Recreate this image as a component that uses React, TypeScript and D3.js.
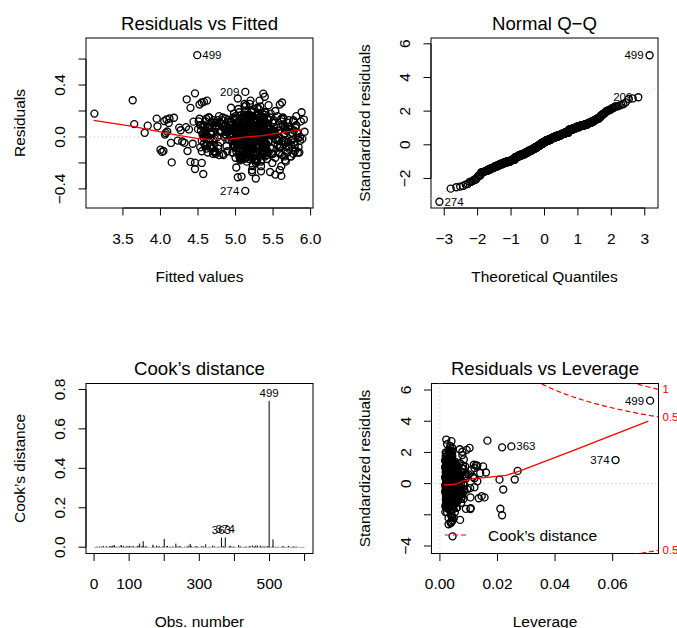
import React from "react";
import * as d3 from "d3";

// ---- model output, indexed by observation number (1..600) ----
const fitted = [
  4.88, 4.62, 5.21, 5.34, 5.47, 4.95, 5.23, 5.12, 5.71, 5.18,
  4.93, 5.82, 5.27, 5.05, 5.58, 5.02, 5.11, 5.41, 4.64, 5.29,
  3.83, 4.55, 5.33, 5.19, 5.39, 4.86, 5.34, 4.99, 5.66, 5.08,
  5.04, 5.77, 5.16, 5.48, 5.62, 5.11, 5.05, 5.26, 4.72, 5.36,
  4.76, 4.66, 5.38, 5.09, 3.65, 4.91, 5.29, 5.52, 5.79, 5.22,
  3.95, 5.88, 5.12, 5.31, 5.44, 5.07, 4.58, 5.03, 4.61, 5.14,
  4.97, 4.53, 5.24, 5.43, 5.35, 4.83, 5.18, 5.18, 5.61, 5.33,
  4.81, 5.74, 5.29, 5.01, 5.52, 5.15, 4.55, 5.37, 4.77, 5.05,
  5.07, 4.68, 5.35, 5.22, 5.66, 4.98, 5.07, 3.79, 5.72, 5.26,
  3.96, 5.91, 5.13, 5.46, 4.05, 5.08, 5.37, 5.11, 4.69, 5.39,
  4.08, 4.59, 5.19, 5.28, 5.49, 4.11, 5.13, 4.97, 5.64, 5.02,
  4.12, 5.79, 5.37, 5.14, 5.33, 4.06, 5.24, 5.44, 4.74, 5.17,
  4.09, 4.51, 5.25, 5.39, 5.61, 4.00, 5.02, 5.06, 5.59, 4.15,
  4.14, 5.86, 5.31, 5.02, 5.41, 4.02, 5.31, 5.23, 4.66, 4.46,
  4.04, 4.63, 5.14, 5.47, 5.56, 4.25, 5.09, 5.32, 5.78, 4.07,
  4.91, 5.72, 5.36, 5.17, 5.37, 4.27, 5.27, 4.99, 4.58, 5.24,
  5.06, 4.57, 5.22, 5.29, 5.64, 4.89, 5.15, 4.57, 5.69, 5.11,
  4.79, 5.84, 5.28, 5.53, 5.46, 5.13, 5.03, 5.08, 4.79, 5.35,
  4.99, 4.65, 5.11, 5.04, 5.32, 4.94, 5.36, 5.42, 5.62, 5.19,
  4.87, 5.76, 5.39, 5.33, 5.53, 5.17, 5.08, 5.16, 4.63, 4.46,
  4.23, 4.54, 5.18, 5.46, 5.68, 5.04, 5.17, 5.27, 5.13, 5.31,
  4.73, 5.89, 5.26, 4.98, 5.42, 4.86, 5.22, 5.50, 4.71, 5.06,
  5.01, 4.61, 5.34, 5.24, 5.59, 5.09, 5.05, 5.13, 5.67, 5.27,
  4.84, 5.71, 4.62, 5.37, 5.36, 4.92, 5.33, 5.02, 4.76, 5.38,
  5.09, 4.52, 5.15, 5.19, 5.51, 5.14, 5.12, 5.35, 5.81, 5.09,
  4.94, 5.78, 5.30, 5.44, 5.63, 4.81, 5.01, 5.21, 4.67, 5.23,
  4.71, 4.69, 5.20, 5.07, 5.48, 5.01, 5.26, 5.46, 5.57, 5.34,
  5.03, 5.83, 5.36, 5.13, 5.39, 5.19, 5.59, 5.30, 4.73, 5.16,
  4.89, 4.56, 5.12, 5.51, 5.57, 4.96, 5.04, 5.04, 5.63, 5.29,
  4.78, 5.73, 5.23, 5.27, 5.34, 5.12, 5.38, 5.18, 4.59, 5.01,
  4.29, 4.64, 5.29, 5.36, 5.66, 4.88, 5.11, 5.39, 5.74, 5.12,
  5.08, 5.87, 5.17, 5.11, 5.45, 5.06, 5.21, 4.55, 4.65, 5.37,
  4.92, 4.58, 5.38, 5.42, 5.31, 4.84, 5.07, 5.25, 5.59, 5.21,
  4.74, 5.75, 5.13, 5.00, 5.54, 5.16, 5.29, 5.53, 4.75, 5.32,
  5.05, 4.67, 5.27, 5.31, 5.38, 4.97, 5.02, 5.10, 5.65, 5.05,
  4.86, 5.80, 5.34, 5.23, 5.60, 5.08, 5.16, 5.33, 4.62, 5.26,
  4.98, 4.55, 4.35, 5.49, 5.47, 4.93, 5.34, 5.01, 5.71, 5.14,
  4.82, 5.69, 5.24, 3.12, 5.35, 5.18, 5.09, 5.43, 4.70, 5.36,
  5.10, 4.62, 5.16, 5.15, 5.67, 4.90, 5.23, 5.20, 5.60, 5.18,
  4.75, 5.85, 5.32, 5.40, 5.43, 5.03, 5.00, 5.07, 4.78, 5.28,
  4.96, 4.50, 5.21, 5.26, 5.56, 4.85, 5.14, 5.48, 5.76, 5.10,
  4.90, 4.52, 5.37, 5.06, 5.33, 5.13, 5.32, 5.29, 4.64, 5.33,
  5.02, 5.92, 5.14, 5.45, 5.50, 4.95, 5.06, 5.15, 5.58, 5.20,
  4.72, 4.60, 5.28, 5.32, 5.40, 5.10, 5.25, 5.38, 4.68, 5.07,
  4.85, 5.77, 5.19, 5.12, 5.62, 4.87, 5.10, 5.24, 5.70, 5.30,
  4.40, 4.66, 5.35, 5.38, 5.44, 4.36, 5.18, 5.00, 4.74, 5.25,
  4.40, 5.70, 5.22, 5.20, 5.36, 4.46, 5.04, 5.47, 5.64, 5.15,
  4.32, 4.53, 5.30, 5.03, 5.52, 4.34, 5.28, 5.34, 4.60, 5.38,
  4.38, 5.81, 5.18, 5.50, 5.65, 4.43, 5.13, 5.12, 5.73, 5.22,
  4.44, 4.68, 5.26, 5.28, 5.37, 4.18, 5.20, 5.41, 4.49, 5.08,
  4.80, 5.74, 5.33, 5.09, 5.58, 5.05, 5.07, 5.22, 4.72, 3.63,
  4.95, 4.57, 5.10, 5.35, 5.46, 4.99, 5.35, 5.31, 5.66, 5.34,
  4.77, 5.86, 5.29, 5.18, 5.32, 5.11, 5.12, 4.96, 4.66, 5.13,
  5.00, 4.64, 5.23, 5.41, 5.61, 4.82, 5.03, 5.44, 5.61, 5.27,
  4.83, 5.79, 5.38, 5.25, 5.49, 5.15, 5.24, 5.05, 4.61, 5.19,
  4.91, 4.54, 5.17, 5.34, 5.35, 4.88, 5.17, 5.36, 5.77, 5.31,
  5.04, 5.71, 5.31, 5.08, 5.55, 5.07, 5.30, 5.27, 4.77, 5.04,
  4.70, 4.61, 5.20, 5.47, 5.42, 4.94, 5.10, 5.14, 5.56, 5.35,
  4.88, 5.83, 5.12, 5.21, 5.68, 5.12, 5.05, 5.40, 4.69, 5.11,
  4.97, 4.59, 5.36, 5.30, 5.39, 5.00, 5.22, 5.09, 5.68, 5.24,
];

const resid = [
  0.01, -0.06, 0.13, -0.18, 0.04, -0.03, 0.08, 0.235, -0.09, -0.14,
  0.07, 0.03, -0.02, 0.19, -0.12, 0.00, -0.08, -0.05, 0.15, 0.09,
  0.087, -0.11, 0.16, -0.01, -0.04, 0.06, -0.225, 0.13, 0.03, -0.07,
  -0.03, 0.12, -0.09, 0.02, 0.265, -0.06, 0.05, -0.17, -0.01, 0.14,
  0.13, -0.04, -0.02, -0.14, 0.099, 0.07, 0.18, 0.01, -0.09, -0.05,
  0.141, 0.19, 0.01, -0.07, -0.12, 0.04, 0.27, 0.296, 0.02, -0.16,
  -0.06, 0.09, 0.215, 0.03, 0.00, -0.13, -0.02, -0.17, 0.12, 0.05,
  0.05, -0.15, -0.08, 0.11, 0.02, -0.04, -0.20, 0.334, -0.07, 0.01,
  -0.16, 0.02, 0.04, -0.255, 0.08, 0.14, -0.01, 0.032, 0.06, -0.11,
  0.082, 0.134, -0.05, 0.07, 0.122, -0.02, 0.12, -0.14, -0.09, 0.19,
  0.135, 0.04, 0.08, -0.03, -0.20, 0.108, 0.00, 0.15, -0.03, -0.08,
  0.142, -0.06, -0.13, 0.245, 0.01, 0.018, -0.09, -0.04, 0.11, 0.06,
  0.042, 0.12, 0.03, -0.15, -0.30, -0.098, 0.07, 0.02, -0.13, -0.196,
  -0.046, 0.00, 0.09, 0.05, -0.06, -0.115, 0.17, -0.225, 0.03, -0.247,
  -0.108, -0.12, -0.02, 0.08, 0.16, 0.072, -0.14, 0.28, 0.05, 0.031,
  0.06, 0.08, 0.18, -0.11, -0.04, 0.052, 0.01, -0.07, -0.01, 0.13,
  -0.09, 0.03, -0.06, 0.04, 0.14, 0.07, -0.19, -0.285, -0.12, 0.00,
  0.11, -0.08, 0.05, -0.16, 0.02, -0.03, 0.08, -0.305, 0.04, -0.13,
  -0.01, 0.15, -0.17, 0.12, -0.07, 0.225, 0.03, 0.06, -0.14, 0.09,
  0.04, -0.02, 0.11, 0.01, 0.20, -0.13, -0.07, 0.17, 0.08, 0.336,
  -0.028, 0.09, -0.04, -0.08, 0.05, 0.02, 0.14, -0.32, 0.347, -0.03,
  -0.12, -0.015, 0.07, 0.18, -0.17, 0.06, -0.01, 0.11, 0.13, 0.04,
  0.01, -0.09, -0.19, -0.05, 0.25, -0.02, 0.06, 0.09, -0.04, -0.12,
  0.08, 0.06, 0.28, -0.14, -0.07, 0.12, 0.235, -0.02, 0.00, 0.15,
  -0.05, 0.14, 0.03, 0.255, 0.02, -0.16, -0.11, -0.13, 0.09, 0.01,
  0.12, -0.04, -0.08, -0.03, 0.09, 0.04, 0.00, 0.20, -0.07, -0.06,
  -0.07, 0.07, 0.16, 0.08, -0.13, -0.11, 0.11, -0.27, 0.05, 0.13,
  0.03, -0.12, -0.02, -0.415, 0.17, 0.08, -0.255, 0.04, -0.11, -0.01,
  -0.11, 0.02, 0.09, 0.13, -0.03, 0.00, 0.215, -0.06, 0.15, 0.07,
  0.16, -0.15, -0.05, -0.20, 0.07, 0.14, -0.04, 0.11, 0.01, -0.09,
  -0.035, 0.08, 0.05, 0.02, -0.18, -0.07, 0.13, 0.31, -0.03, 0.03,
  -0.01, 0.12, -0.14, 0.17, 0.06, 0.09, -0.12, 0.265, 0.07, -0.04,
  0.09, -0.05, 0.02, -0.11, 0.15, -0.14, 0.01, 0.07, -0.08, 0.19,
  -0.13, 0.03, 0.13, 0.06, -0.02, 0.04, -0.18, -0.29, 0.11, 0.00,
  0.06, -0.09, -0.11, 0.215, 0.12, -0.03, 0.08, -0.01, 0.02, -0.15,
  0.02, 0.07, 0.06, -0.16, -0.08, 0.17, -0.05, 0.14, -0.06, 0.09,
  -0.07, -0.03, 0.29, 0.04, 0.18, 0.01, 0.12, -0.235, 0.13, -0.08,
  0.13, 0.11, -0.12, 0.18, -0.05, -0.09, 0.05, 0.09, -0.02, 0.03,
  -0.04, 0.01, 0.08, -0.07, -0.19, 0.13, -0.09, 0.28, 0.08, -0.13,
  0.08, -0.12, -0.01, 0.11, 0.14, -0.06, 0.16, -0.15, -0.14, 0.05,
  -0.12, 0.06, 0.14, 0.01, -0.06, 0.08, -0.02, -0.09, 0.03, 0.11,
  0.05, 0.25, -0.07, -0.18, 0.09, -0.11, 0.09, 0.225, 0.07, -0.03,
  -0.08, 0.04, 0.06, 0.07, -0.13, 0.05, -0.15, -0.05, -0.08, 0.16,
  0.11, -0.07, -0.14, -0.04, 0.19, -0.01, 0.04, 0.13, 0.04, -0.17,
  0.00, 0.13, 0.11, 0.255, -0.03, 0.14, -0.07, 0.02, -0.04, 0.07,
  0.224, -0.01, 0.01, -0.11, 0.13, -0.108, 0.16, -0.16, 0.09, 0.04,
  -0.192, 0.08, -0.05, 0.15, -0.11, -0.198, 0.03, 0.06, -0.06, -0.06,
  -0.045, -0.08, 0.18, -0.31, 0.04, 0.076, -0.12, -0.09, 0.12, 0.09,
  0.058, 0.16, -0.07, 0.05, -0.15, -0.052, 0.20, 0.16, 0.02, -0.08,
  0.118, 0.03, 0.12, -0.19, 0.06, 0.148, -0.09, 0.03, 0.63, 0.14,
  -0.04, -0.06, -0.11, 0.09, -0.01, 0.11, 0.06, -0.27, -0.12, 0.283,
  0.07, 0.09, 0.04, -0.05, 0.15, -0.08, -0.13, 0.05, 0.06, -0.12,
  -0.09, -0.03, -0.17, 0.17, 0.01, 0.03, 0.11, -0.12, -0.07, 0.05,
  0.03, 0.07, 0.07, -0.09, -0.225, 0.08, 0.00, 0.245, 0.14, -0.03,
  0.15, -0.11, -0.03, 0.06, 0.11, -0.12, 0.13, -0.02, 0.05, 0.12,
  -0.02, 0.05, 0.14, -0.265, -0.05, 0.06, -0.04, 0.11, -0.13, -0.07,
  0.06, -0.08, -0.01, 0.14, 0.07, -0.17, 0.08, -0.18, 0.09, 0.01,
  -0.13, 0.14, 0.09, 0.03, -0.14, 0.12, -0.16, 0.06, -0.02, 0.16,
  0.04, -0.01, -0.06, -0.15, 0.05, 0.02, 0.03, -0.08, 0.11, -0.05,
  -0.06, 0.08, 0.07, 0.08, 0.12, -0.04, -0.11, 0.15, -0.07, 0.04,
];

const hat = [
  0.0024, 0.0058, 0.0031, 0.0019, 0.0042, 0.0027, 0.0036, 0.0022, 0.0049, 0.0033,
  0.0029, 0.0071, 0.0021, 0.0038, 0.0045, 0.0025, 0.0032, 0.0053, 0.0047, 0.0020,
  0.016, 0.0066, 0.0035, 0.0023, 0.0028, 0.0041, 0.0052, 0.0018, 0.0039, 0.0030,
  0.0034, 0.0062, 0.0026, 0.0044, 0.0033, 0.0021, 0.0040, 0.0029, 0.0058, 0.0024,
  0.0019, 0.0054, 0.0037, 0.0027, 0.027, 0.0046, 0.0030, 0.0023, 0.0061, 0.0035,
  0.013, 0.0083, 0.0024, 0.0031, 0.0039, 0.0028, 0.0069, 0.0036, 0.0052, 0.0022,
  0.0041, 0.0075, 0.0020, 0.0033, 0.0026, 0.0050, 0.0043, 0.0031, 0.0037, 0.0018,
  0.0026, 0.0059, 0.0045, 0.0021, 0.0034, 0.0038, 0.0106, 0.0040, 0.0044, 0.0029,
  0.0032, 0.0051, 0.0028, 0.0042, 0.0055, 0.0024, 0.0019, 0.026, 0.0063, 0.0036,
  0.014, 0.0088, 0.0033, 0.0025, 0.012, 0.0030, 0.0048, 0.0027, 0.0049, 0.0041,
  0.015, 0.0064, 0.0022, 0.0036, 0.0029, 0.011, 0.0035, 0.0044, 0.0038, 0.0023,
  0.0125, 0.0070, 0.0039, 0.0020, 0.0047, 0.013, 0.0041, 0.0025, 0.0056, 0.0031,
  0.012, 0.0078, 0.0027, 0.0034, 0.0040, 0.0145, 0.0022, 0.0032, 0.0045, 0.021,
  0.022, 0.0081, 0.0030, 0.0046, 0.0025, 0.0135, 0.0054, 0.0019, 0.0050, 0.0216,
  0.0155, 0.0060, 0.0043, 0.0028, 0.0037, 0.010, 0.0026, 0.0035, 0.0066, 0.0207,
  0.0038, 0.0067, 0.0018, 0.0031, 0.0052, 0.0115, 0.0029, 0.0043, 0.0053, 0.0026,
  0.0023, 0.0072, 0.0036, 0.0049, 0.0030, 0.0034, 0.0057, 0.0070, 0.0042, 0.0039,
  0.0045, 0.0079, 0.0025, 0.0022, 0.0041, 0.0027, 0.0033, 0.0037, 0.0048, 0.0021,
  0.0030, 0.0056, 0.0048, 0.0035, 0.0019, 0.0042, 0.0062, 0.0028, 0.0040, 0.0032,
  0.0021, 0.0068, 0.0032, 0.0040, 0.0036, 0.0024, 0.0027, 0.0046, 0.0054, 0.0165,
  0.012, 0.0076, 0.0029, 0.0026, 0.0058, 0.0037, 0.0039, 0.0030, 0.0022, 0.0044,
  0.0036, 0.0085, 0.0041, 0.0033, 0.0024, 0.0055, 0.0020, 0.0039, 0.0046, 0.0027,
  0.0027, 0.0063, 0.0023, 0.0045, 0.0031, 0.0030, 0.0047, 0.0024, 0.0059, 0.0035,
  0.0048, 0.0065, 0.0103, 0.0029, 0.0043, 0.0020, 0.0034, 0.0052, 0.0043, 0.0028,
  0.0020, 0.0080, 0.0038, 0.0037, 0.0027, 0.0045, 0.0031, 0.0022, 0.0064, 0.0040,
  0.0033, 0.0061, 0.0027, 0.0024, 0.0050, 0.0039, 0.0044, 0.0035, 0.0051, 0.0019,
  0.0042, 0.0057, 0.0034, 0.0041, 0.0022, 0.0026, 0.0028, 0.0048, 0.0036, 0.0031,
  0.0025, 0.0073, 0.0019, 0.0044, 0.0038, 0.0033, 0.0040, 0.0027, 0.0045, 0.0037,
  0.0039, 0.0069, 0.0044, 0.0030, 0.0035, 0.0048, 0.0025, 0.0041, 0.0057, 0.0023,
  0.0028, 0.0074, 0.0031, 0.0047, 0.0029, 0.0022, 0.0060, 0.0034, 0.0052, 0.0043,
  0.0105, 0.0055, 0.0026, 0.0032, 0.0046, 0.0031, 0.0037, 0.0025, 0.0068, 0.0034,
  0.0031, 0.0077, 0.0040, 0.0023, 0.0033, 0.0044, 0.0021, 0.0093, 0.0046, 0.0029,
  0.0044, 0.0062, 0.0022, 0.0039, 0.0027, 0.0036, 0.0049, 0.0032, 0.0041, 0.0020,
  0.0022, 0.0058, 0.0037, 0.0028, 0.0051, 0.0025, 0.0035, 0.0044, 0.0055, 0.0038,
  0.0035, 0.0052, 0.0030, 0.0043, 0.0024, 0.0040, 0.0028, 0.0021, 0.0048, 0.0032,
  0.0027, 0.0066, 0.0046, 0.0034, 0.0039, 0.0032, 0.0042, 0.0029, 0.0047, 0.0025,
  0.0040, 0.0071, 0.0248, 0.0020, 0.0032, 0.0047, 0.0055, 0.0038, 0.0060, 0.0030,
  0.0024, 0.0059, 0.0033, 0.061, 0.0045, 0.0021, 0.0030, 0.0036, 0.0050, 0.0041,
  0.0037, 0.0064, 0.0028, 0.0031, 0.0059, 0.0035, 0.0024, 0.0043, 0.0039, 0.0026,
  0.0032, 0.0082, 0.0042, 0.0025, 0.0030, 0.0029, 0.0038, 0.0026, 0.0053, 0.0036,
  0.0021, 0.0087, 0.0024, 0.0040, 0.0037, 0.0043, 0.0032, 0.0034, 0.0070, 0.0022,
  0.0043, 0.0078, 0.0036, 0.0029, 0.0026, 0.0030, 0.0051, 0.0040, 0.0048, 0.0033,
  0.0029, 0.0090, 0.0021, 0.0035, 0.0043, 0.0038, 0.0027, 0.0031, 0.0044, 0.0045,
  0.0046, 0.0068, 0.0039, 0.0022, 0.0034, 0.0026, 0.0053, 0.0024, 0.0057, 0.0028,
  0.0026, 0.0061, 0.0032, 0.0044, 0.0028, 0.0047, 0.0022, 0.0037, 0.0062, 0.0039,
  0.0078, 0.0057, 0.0025, 0.0033, 0.0041, 0.0106, 0.0036, 0.0029, 0.0049, 0.0024,
  0.0107, 0.0066, 0.0043, 0.0027, 0.0035, 0.0090, 0.0030, 0.0045, 0.0053, 0.0031,
  0.0095, 0.0075, 0.0029, 0.0038, 0.0022, 0.0088, 0.0044, 0.0033, 0.0056, 0.0040,
  0.0092, 0.0070, 0.0035, 0.0021, 0.0048, 0.0085, 0.0026, 0.0039, 0.0067, 0.0027,
  0.0082, 0.0058, 0.0040, 0.0036, 0.0031, 0.0118, 0.0047, 0.0023, 0.073, 0.0042,
  0.0034, 0.0079, 0.0027, 0.0048, 0.0039, 0.0034, 0.0025, 0.0030, 0.0054, 0.0216,
  0.0023, 0.0063, 0.0045, 0.0026, 0.0033, 0.0041, 0.0056, 0.0038, 0.0042, 0.0029,
  0.0041, 0.0072, 0.0020, 0.0039, 0.0044, 0.0028, 0.0031, 0.0027, 0.0050, 0.0035,
  0.0030, 0.0060, 0.0038, 0.0032, 0.0025, 0.0050, 0.0039, 0.0041, 0.0046, 0.0022,
  0.0036, 0.0076, 0.0034, 0.0024, 0.0040, 0.0023, 0.0045, 0.0032, 0.0058, 0.0038,
  0.0025, 0.0067, 0.0029, 0.0042, 0.0050, 0.0037, 0.0028, 0.0035, 0.0063, 0.0026,
  0.0033, 0.0064, 0.0041, 0.0030, 0.0027, 0.0032, 0.0052, 0.0043, 0.0047, 0.0034,
  0.0047, 0.0059, 0.0024, 0.0036, 0.0038, 0.0045, 0.0033, 0.0022, 0.0041, 0.0030,
  0.0022, 0.0073, 0.0043, 0.0029, 0.0053, 0.0027, 0.0041, 0.0037, 0.0055, 0.0044,
  0.0038, 0.0062, 0.0032, 0.0045, 0.0026, 0.0039, 0.0035, 0.0028, 0.0049, 0.0023,
];

// red smoother curves
const smoothFitX = [3.11, 3.63, 4.03, 4.26, 4.48, 4.70, 4.92, 5.15, 5.37, 5.59, 5.81, 5.91];
const smoothFitY = [0.128, 0.082, 0.036, 0.010, -0.011, -0.021, -0.016, 0.0, 0.010, 0.031, 0.051, 0.062];
const smoothLevX = [0.0013, 0.0052, 0.008, 0.0115, 0.0172, 0.023, 0.0276, 0.046, 0.0724];
const smoothLevY = [-0.09, -0.04, 0.16, 0.32, 0.42, 0.53, 0.80, 2.10, 4.00];

const cookLevels = [0.5, 1];
const modelRank = 3;

// ticks and tick labels
const fitTicks = [3.5, 4.0, 4.5, 5.0, 5.5, 6.0];
const fitTickText = ["3.5", "4.0", "4.5", "5.0", "5.5", "6.0"];
const resTicks = [-0.4, -0.2, 0, 0.2, 0.4, 0.6];
const resTickText = ["\u22120.4", "", "0.0", "", "0.4", ""];
const qxTicks = [-3, -2, -1, 0, 1, 2, 3];
const qxTickText = ["\u22123", "\u22122", "\u22121", "0", "1", "2", "3"];
const qyTicks = [-2, 0, 2, 4, 6];
const qyTickText = ["\u22122", "0", "2", "4", "6"];
const obsTicks = [0, 100, 200, 300, 400, 500, 600];
const obsTickText = ["0", "100", "", "300", "", "500", ""];
const cookTicks = [0, 0.2, 0.4, 0.6, 0.8];
const cookTickText = ["0.0", "0.2", "0.4", "0.6", "0.8"];
const levTicks = [0, 0.02, 0.04, 0.06];
const levTickText = ["0.00", "0.02", "0.04", "0.06"];
const slTicks = [-4, -2, 0, 2, 4, 6];
const slTickText = ["\u22124", "", "0", "2", "4", "6"];

const FONT = '"Liberation Sans", Arial, Helvetica, sans-serif';
const FS = 15.5;
const FS_TITLE = 18.6;
const FS_ID = 11.5;

function ext(lo: number, hi: number, f = 0.04): [number, number] {
  const d = (hi - lo) * f;
  return [lo - d, hi + d];
}

// inverse standard normal CDF (Acklam)
function qnorm(p: number): number {
  const a = [-3.969683028665376e1, 2.209460984245205e2, -2.759285104469687e2, 1.38357751867269e2, -3.066479806614716e1, 2.506628277459239];
  const b = [-5.447609879822406e1, 1.615858368580409e2, -1.556989798598866e2, 6.680131188771972e1, -1.328068155288572e1];
  const c = [-7.784894002430293e-3, -3.223964580411365e-1, -2.400758277161838, -2.549732539343734, 4.374664141464968, 2.938163982698783];
  const d = [7.784695709041462e-3, 3.224671290700398e-1, 2.445134137142996, 3.754408661907416];
  const pl = 0.02425;
  if (p < pl) {
    const q = Math.sqrt(-2 * Math.log(p));
    return (((((c[0] * q + c[1]) * q + c[2]) * q + c[3]) * q + c[4]) * q + c[5]) / ((((d[0] * q + d[1]) * q + d[2]) * q + d[3]) * q + 1);
  }
  if (p > 1 - pl) {
    const q = Math.sqrt(-2 * Math.log(1 - p));
    return -(((((c[0] * q + c[1]) * q + c[2]) * q + c[3]) * q + c[4]) * q + c[5]) / ((((d[0] * q + d[1]) * q + d[2]) * q + d[3]) * q + 1);
  }
  const q = p - 0.5;
  const r = q * q;
  return ((((((a[0] * r + a[1]) * r + a[2]) * r + a[3]) * r + a[4]) * r + a[5]) * q) / (((((b[0] * r + b[1]) * r + b[2]) * r + b[3]) * r + b[4]) * r + 1);
}

type Box = { left: number; right: number; top: number; bottom: number };
const B1: Box = { left: 86, right: 313, top: 38, bottom: 208 };
const B2: Box = { left: 431, right: 658, top: 38, bottom: 208 };
const B3: Box = { left: 86, right: 313, top: 383.5, bottom: 553.5 };
const B4: Box = { left: 431.5, right: 658.5, top: 383.5, bottom: 553.5 };

function inDom(s: any, v: number) {
  const [a, b] = s.domain();
  return v >= Math.min(a, b) - 1e-9 && v <= Math.max(a, b) + 1e-9;
}

function Frame(props: {
  id: string; box: Box; title: string; xlab: string; ylab: string;
  xs: any; ys: any; xt: number[]; xtt: string[]; yt: number[]; ytt: string[];
}) {
  const { box, title, xlab, ylab, xs, ys } = props;
  const xi = props.xt.map((t, i) => i).filter((i) => inDom(xs, props.xt[i]));
  const yi = props.yt.map((t, i) => i).filter((i) => inDom(ys, props.yt[i]));
  const xt = xi.map((i) => props.xt[i]);
  const xtt = xi.map((i) => props.xtt[i]);
  const yt = yi.map((i) => props.yt[i]);
  const ytt = yi.map((i) => props.ytt[i]);
  const cx = (box.left + box.right) / 2;
  const cy = (box.top + box.bottom) / 2;
  const tick = 7.5;
  return (
    <g fontFamily={FONT} fill="#000">
      <rect x={box.left} y={box.top} width={box.right - box.left} height={box.bottom - box.top} fill="none" stroke="#000" strokeWidth={1} />
      <text x={cx} y={box.top - 8.5} fontSize={FS_TITLE} textAnchor="middle">{title}</text>
      <line x1={xs(xt[0])} x2={xs(xt[xt.length - 1])} y1={box.bottom} y2={box.bottom} stroke="#000" />
      {xt.map((t, i) => (
        <g key={"x" + i}>
          <line x1={xs(t)} x2={xs(t)} y1={box.bottom} y2={box.bottom + tick} stroke="#000" />
          {xtt[i] ? <text x={xs(t)} y={box.bottom + 35.5} fontSize={FS} textAnchor="middle">{xtt[i]}</text> : null}
        </g>
      ))}
      <line x1={box.left} x2={box.left} y1={ys(yt[0])} y2={ys(yt[yt.length - 1])} stroke="#000" />
      {yt.map((t, i) => (
        <g key={"y" + i}>
          <line x1={box.left} x2={box.left - tick} y1={ys(t)} y2={ys(t)} stroke="#000" />
          {ytt[i] ? (
            <text transform={`translate(${box.left - 21},${ys(t)}) rotate(-90)`} fontSize={FS} textAnchor="middle">{ytt[i]}</text>
          ) : null}
        </g>
      ))}
      <text x={cx} y={box.bottom + 73.5} fontSize={FS} textAnchor="middle">{xlab}</text>
      <text transform={`translate(${box.left - 61.5},${cy}) rotate(-90)`} fontSize={FS} textAnchor="middle">{ylab}</text>
      <clipPath id={props.id}>
        <rect x={box.left} y={box.top} width={box.right - box.left} height={box.bottom - box.top} />
      </clipPath>
    </g>
  );
}

function IdLabels(props: { xs: any; ys: any; xv: number[]; yv: number[]; ids: number[]; above?: boolean }) {
  const { xs, ys, xv, yv, ids, above } = props;
  const [lo, hi] = d3.extent(ids.map((i) => xv[i])) as [number, number];
  const mid = (lo + hi) / 2;
  return (
    <g fontFamily={FONT} fontSize={FS_ID} fill="#000">
      {ids.map((i) => {
        const x = xs(xv[i]);
        const y = ys(yv[i]);
        if (above) return <text key={i} x={x} y={y - 4} textAnchor="middle">{i + 1}</text>;
        const right = xv[i] <= mid;
        return (
          <text key={i} x={right ? x + 5 : x - 6} y={y + 4} textAnchor={right ? "start" : "end"}>{i + 1}</text>
        );
      })}
    </g>
  );
}

export default function App() {
  const n = fitted.length;
  const p = modelRank;
  const s = Math.sqrt(d3.sum(resid, (r) => r * r) / (n - p));
  const rs = resid.map((r, i) => r / (s * Math.sqrt(1 - hat[i])));
  const cook = rs.map((v, i) => (v * v * hat[i]) / (p * (1 - hat[i])));
  const order = d3.range(n).sort((a, b) => rs[a] - rs[b]);
  const theo: number[] = new Array(n);
  order.forEach((idx, k) => (theo[idx] = qnorm((k + 0.5) / n)));
  const obs = d3.range(1, n + 1);

  const top3 = (vals: number[]) => d3.range(n).sort((a, b) => Math.abs(vals[b]) - Math.abs(vals[a])).slice(0, 3);

  const [fLo, fHi] = d3.extent(fitted) as [number, number];
  const [rLo, rHi] = d3.extent(resid) as [number, number];
  const x1 = d3.scaleLinear().domain(ext(fLo, fHi)).range([B1.left, B1.right]);
  const y1r = ext(rLo, rHi, 0.08);
  const y1 = d3.scaleLinear().domain(ext(y1r[0], y1r[1])).range([B1.bottom, B1.top]);

  const [tLo, tHi] = d3.extent(theo) as [number, number];
  const [sLo, sHi] = d3.extent(rs) as [number, number];
  const x2 = d3.scaleLinear().domain(ext(tLo, tHi)).range([B2.left, B2.right]);
  const y2 = d3.scaleLinear().domain(ext(sLo, sHi + (sHi - sLo) * 0.075)).range([B2.bottom, B2.top]);
  const sorted = rs.slice().sort((a, b) => a - b);
  const qy1 = d3.quantileSorted(sorted, 0.25) as number;
  const qy3 = d3.quantileSorted(sorted, 0.75) as number;
  const qx1 = qnorm(0.25), qx3 = qnorm(0.75);
  const slope = (qy3 - qy1) / (qx3 - qx1);
  const inter = qy1 - slope * qx1;
  const qd = x2.domain();

  const cMax = d3.max(cook) as number;
  const x3 = d3.scaleLinear().domain(ext(1, n)).range([B3.left, B3.right]);
  const y3 = d3.scaleLinear().domain(ext(0, cMax * 1.075)).range([B3.bottom, B3.top]);

  const hMax = d3.max(hat) as number;
  const x4 = d3.scaleLinear().domain(ext(0, hMax)).range([B4.left, B4.right]);
  const y4r = ext(sLo, sHi, 0.08);
  const y4 = d3.scaleLinear().domain(ext(y4r[0], y4r[1])).range([B4.bottom, B4.top]);
  const usr4 = x4.domain();
  const hLo = Math.min(hat[0], hat[1] / 100);
  const hh = d3.range(101).map((i) => hLo + ((usr4[1] - hLo) * i) / 100);
  const ymult = Math.sqrt((p * (1 - usr4[1])) / usr4[1]);
  const y4d = y4.domain();

  const line = (xs: any, ys: any) => d3.line<[number, number]>().x((d) => xs(d[0])).y((d) => ys(d[1]));

  const idsRes = top3(resid);
  const idsStd = top3(rs);
  const idsCook = top3(cook);

  const circ = (cx: number, cy: number, k: number) => (
    <circle key={k} cx={cx} cy={cy} r={3.5} fill="none" stroke="#000" strokeWidth={1.35} />
  );

  return (
    <svg width={677} height={628} style={{ position: "absolute", left: 0, top: 0, background: "#fff" }}>
      <rect x={0} y={0} width={677} height={628} fill="#fff" />

      {/* Panel 1: Residuals vs Fitted */}
      <Frame id="c1" box={B1} title="Residuals vs Fitted" xlab="Fitted values" ylab="Residuals"
        xs={x1} ys={y1} xt={fitTicks} xtt={fitTickText} yt={resTicks} ytt={resTickText} />
      <line x1={B1.left} x2={B1.right} y1={y1(0)} y2={y1(0)} stroke="#BEBEBE" strokeDasharray="1 3" />
      <g>{fitted.map((f, i) => circ(x1(f), y1(resid[i]), i))}</g>
      <path d={line(x1, y1)(smoothFitX.map((v, i) => [v, smoothFitY[i]]) as [number, number][]) || ""}
        fill="none" stroke="#FF0000" strokeWidth={1.3} clipPath="url(#c1)" />
      <IdLabels xs={x1} ys={y1} xv={fitted} yv={resid} ids={idsRes} />

      {/* Panel 2: Normal Q-Q */}
      <Frame id="c2" box={B2} title={"Normal Q\u2212Q"} xlab="Theoretical Quantiles" ylab="Standardized residuals"
        xs={x2} ys={y2} xt={qxTicks} xtt={qxTickText} yt={qyTicks} ytt={qyTickText} />
      <line x1={x2(qd[0])} x2={x2(qd[1])} y1={y2(inter + slope * qd[0])} y2={y2(inter + slope * qd[1])}
        stroke="#BEBEBE" strokeDasharray="1 3" clipPath="url(#c2)" />
      <g>{theo.map((t, i) => circ(x2(t), y2(rs[i]), i))}</g>
      <IdLabels xs={x2} ys={y2} xv={theo} yv={rs} ids={idsStd} />

      {/* Panel 3: Cook's distance */}
      <Frame id="c3" box={B3} title={"Cook\u2019s distance"} xlab="Obs. number" ylab={"Cook\u2019s distance"}
        xs={x3} ys={y3} xt={obsTicks} xtt={obsTickText} yt={cookTicks} ytt={cookTickText} />
      <g>
        {obs.map((o, i) => (
          <line key={i} x1={x3(o)} x2={x3(o)} y1={y3(0)} y2={y3(cook[i])} stroke="#000" strokeWidth={1} />
        ))}
      </g>
      <IdLabels xs={x3} ys={y3} xv={obs} yv={cook} ids={idsCook} above />

      {/* Panel 4: Residuals vs Leverage */}
      <Frame id="c4" box={B4} title="Residuals vs Leverage" xlab="Leverage" ylab="Standardized residuals"
        xs={x4} ys={y4} xt={levTicks} xtt={levTickText} yt={slTicks} ytt={slTickText} />
      <line x1={B4.left} x2={B4.right} y1={y4(0)} y2={y4(0)} stroke="#BEBEBE" strokeDasharray="1 3" />
      <line x1={x4(0)} x2={x4(0)} y1={B4.top} y2={B4.bottom} stroke="#BEBEBE" strokeDasharray="1 3" />
      <g>{hat.map((h, i) => circ(x4(h), y4(rs[i]), i))}</g>
      <path d={line(x4, y4)(smoothLevX.map((v, i) => [v, smoothLevY[i]]) as [number, number][]) || ""}
        fill="none" stroke="#FF0000" strokeWidth={1.3} clipPath="url(#c4)" />
      <g clipPath="url(#c4)">
        {cookLevels.map((crit) =>
          [1, -1].map((sg) => (
            <path key={crit + "_" + sg}
              d={line(x4, y4)(hh.map((h) => [h, sg * Math.sqrt((crit * p * (1 - h)) / h)]) as [number, number][]) || ""}
              fill="none" stroke="#FF0000" strokeWidth={1.2} strokeDasharray="5 3" />
          ))
        )}
      </g>
      <g fontFamily={FONT} fontSize={FS_ID} fill="#FF0000">
        {cookLevels.flatMap((crit) =>
          [1, -1].map((sg) => {
            const v = sg * Math.sqrt(crit) * ymult;
            if (v < y4d[0] || v > y4d[1]) return null;
            return <text key={crit + "t" + sg} x={B4.right + 4} y={y4(v) + 4}>{String(crit)}</text>;
          })
        )}
      </g>
      <IdLabels xs={x4} ys={y4} xv={hat} yv={rs} ids={idsCook} />
      <line x1={445} x2={468} y1={535} y2={535} stroke="#FF0000" strokeWidth={1.2} strokeDasharray="5 3" />
      <text x={488} y={540.5} fontFamily={FONT} fontSize={FS}>{"Cook\u2019s distance"}</text>
    </svg>
  );
}
